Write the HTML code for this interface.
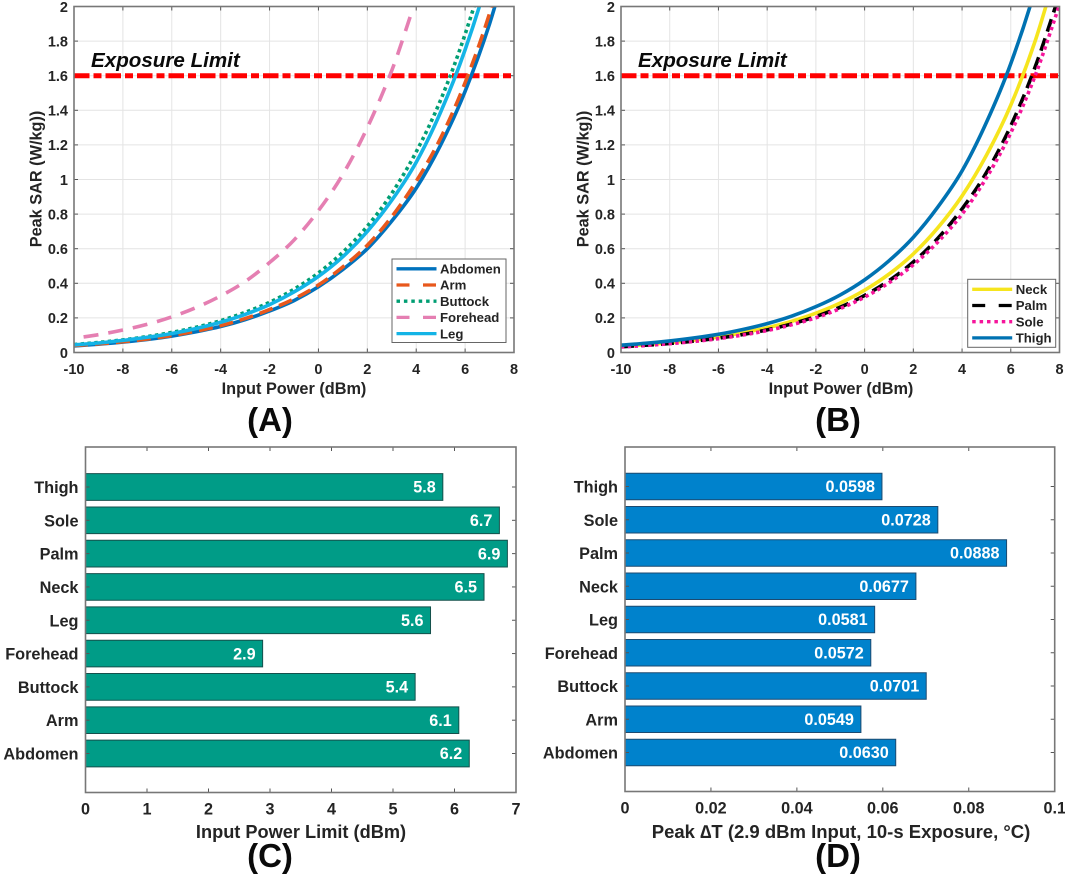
<!DOCTYPE html>
<html lang="en">
<head>
<meta charset="utf-8">
<title>Peak SAR and temperature charts</title>
<style>
html,body{margin:0;padding:0;background:#fff;}
svg{display:block;font-family:"Liberation Sans",Arial,sans-serif;font-weight:bold;}
</style>
</head>
<body>
<svg id="figure" xmlns="http://www.w3.org/2000/svg" width="1065" height="885" viewBox="0 0 1065 885">
<defs>
<clipPath id="clip-a"><rect x="74" y="6.5" width="440" height="346"/></clipPath>
<clipPath id="clip-b"><rect x="621" y="6.5" width="438.5" height="346"/></clipPath>
</defs>
<g id="panel-a"></g>
<g id="panel-b"></g>
<g id="panel-c"></g>
<g id="panel-d"></g>
</svg>
<script>
// ---- Line chart data ----
const powerDbm = [-10,-9,-8,-7,-6,-5,-4,-3,-2,-1,0,1,2,3,4,5,6,7,8];
const foreheadPowerDbm = [-10,-9,-8,-7,-6,-5,-4,-3,-2,-1,0,1,2,3,3.75];
const abdomenSar = [0.038,0.048,0.06,0.075,0.095,0.12,0.15,0.19,0.24,0.30,0.38,0.48,0.6,0.76,0.95,1.2,1.51,1.9,2.39];
const armSar = [0.04,0.05,0.062,0.078,0.098,0.124,0.155,0.196,0.248,0.31,0.39,0.495,0.62,0.785,0.99,1.24,1.56,1.96,2.47];
const buttockSar = [0.046,0.058,0.073,0.092,0.116,0.146,0.184,0.232,0.29,0.366,0.46,0.58,0.73,0.92,1.16,1.46,1.84,2.31,2.9];
const foreheadSar = [0.082,0.103,0.13,0.163,0.206,0.26,0.327,0.41,0.52,0.65,0.82,1.03,1.3,1.63,1.94];
const legSar = [0.044,0.055,0.07,0.088,0.11,0.139,0.175,0.22,0.277,0.35,0.44,0.554,0.70,0.88,1.1,1.39,1.75,2.2,2.77];
const neckSar = [0.036,0.045,0.057,0.072,0.09,0.114,0.143,0.18,0.227,0.286,0.36,0.453,0.57,0.72,0.905,1.14,1.43,1.8,2.27];
const palmSar = [0.033,0.042,0.052,0.066,0.083,0.104,0.131,0.165,0.208,0.262,0.33,0.415,0.523,0.659,0.83,1.04,1.31,1.65,2.07];
const soleSar = [0.032,0.04,0.051,0.064,0.08,0.101,0.127,0.16,0.201,0.254,0.32,0.403,0.507,0.638,0.80,1.01,1.27,1.6,2.01];
const thighSar = [0.042,0.053,0.067,0.084,0.105,0.133,0.167,0.21,0.265,0.333,0.42,0.53,0.666,0.84,1.05,1.33,1.67,2.1,2.65];
const exposureLimit = 1.6;
const lineXTicks = [-10,-8,-6,-4,-2,0,2,4,6,8];
const lineYTicks = [0,0.2,0.4,0.6,0.8,1,1.2,1.4,1.6,1.8,2];

// ---- Bar chart data ----
const bodyParts = ["Abdomen","Arm","Buttock","Forehead","Leg","Neck","Palm","Sole","Thigh"];
const powerLimitValues = [6.24,6.07,5.36,2.88,5.61,6.48,6.86,6.73,5.81];
const powerLimitLabels = ["6.2","6.1","5.4","2.9","5.6","6.5","6.9","6.7","5.8"];
const powerLimitTicks = [0,1,2,3,4,5,6,7];
const deltaTValues = [0.0630,0.0549,0.0701,0.0572,0.0581,0.0677,0.0888,0.0728,0.0598];
const deltaTLabels = ["0.0630","0.0549","0.0701","0.0572","0.0581","0.0677","0.0888","0.0728","0.0598"];
const deltaTTicks = [0,0.02,0.04,0.06,0.08,0.1];

const NS = "http://www.w3.org/2000/svg";
const INK = "#242424";
function mk(parent, tag, attrs, txt) {
  const el = document.createElementNS(NS, tag);
  for (const k in attrs) el.setAttribute(k, attrs[k]);
  if (txt !== undefined) el.textContent = txt;
  parent.appendChild(el);
  return el;
}
function smoothPath(xs, ys, sx, sy) {
  const p = xs.map((x, i) => [sx(x), sy(ys[i])]);
  let d = "M" + p[0][0].toFixed(2) + " " + p[0][1].toFixed(2);
  for (let i = 0; i < p.length - 1; i++) {
    const a = p[Math.max(i - 1, 0)], b = p[i], c = p[i + 1], e = p[Math.min(i + 2, p.length - 1)];
    d += "C" + (b[0] + (c[0] - a[0]) / 6).toFixed(2) + " " + (b[1] + (c[1] - a[1]) / 6).toFixed(2) + " " +
         (c[0] - (e[0] - b[0]) / 6).toFixed(2) + " " + (c[1] - (e[1] - b[1]) / 6).toFixed(2) + " " +
         c[0].toFixed(2) + " " + c[1].toFixed(2);
  }
  return d;
}
function drawTicksX(g, ticks, sx, top, bottom, labelY, size) {
  ticks.forEach(t => {
    const x = sx(t);
    const a = mk(g, "line", {x1:x, x2:x, y1:bottom, y2:bottom-4, stroke:"#555", "stroke-width":1});
    
    
    const b = mk(g, "line", {x1:x, x2:x, y1:top, y2:top+4, stroke:"#555", "stroke-width":1});
    
    
    const l = mk(g, "text", {x:x, y:labelY, "text-anchor":"middle", "font-size":size, fill:INK}, String(t));
    
    
  });
}
function drawFrame(g, x0, x1, top, bottom) {
  const f = mk(g, "rect", {x:x0, y:top, width:x1-x0, height:bottom-top, fill:"none", stroke:"#777", "stroke-width":1.6});
  
  
}

function lineChart(cfg) {
  const g = document.getElementById(cfg.id);
  const top = 6.5, bottom = 352.5, x0 = cfg.x0, x1 = cfg.x1;
  const sx = v => x0 + (v + 10) / 18 * (x1 - x0);
  const sy = v => bottom - v / 2 * (bottom - top);
  lineXTicks.forEach(t => {
    const gl = mk(g, "line", {x1:sx(t), x2:sx(t), y1:top, y2:bottom, stroke:"#e4e4e4", "stroke-width":1});
    
    
  });
  lineYTicks.forEach(t => {
    const gl = mk(g, "line", {x1:x0, x2:x1, y1:sy(t), y2:sy(t), stroke:"#e4e4e4", "stroke-width":1});
    
    
    const a = mk(g, "line", {x1:x0, x2:x0+4, y1:sy(t), y2:sy(t), stroke:"#555", "stroke-width":1});
    
    
    const b = mk(g, "line", {x1:x1, x2:x1-4, y1:sy(t), y2:sy(t), stroke:"#555", "stroke-width":1});
    
    
    const l = mk(g, "text", {x:x0-6, y:sy(t)+5.3, "text-anchor":"end", "font-size":14.5, fill:INK}, String(t));
    
    
  });
  drawTicksX(g, lineXTicks, sx, top, bottom, 374, 14.5);
  const clip = mk(g, "g", {"clip-path":"url(#" + cfg.clip + ")"});
  
  
  const limit = mk(clip, "line", {x1:sx(-10), x2:sx(8), y1:sy(exposureLimit), y2:sy(exposureLimit), stroke:"#ff0000", "stroke-width":5, "stroke-dasharray":"15.5 4 8 4"});
  
  
  cfg.series.forEach(s => {
    const p = mk(clip, "path", {d:smoothPath(s.x, s.y, sx, sy), fill:"none", stroke:s.color, "stroke-width":s.w, "stroke-dasharray":s.dash || "none"});
    
    
    if (s.endOnDash) {
      const len = p.getTotalLength();
      p.setAttribute("stroke-dashoffset", s.endOnDash[0] - (len % (s.endOnDash[0] + s.endOnDash[1])));
    }
  });
  drawFrame(g, x0, x1, top, bottom);
  const ex = mk(g, "text", {x:cfg.x0+17, y:67, "font-size":20.6, "font-style":"italic", fill:"#0a0a0a"}, "Exposure Limit");
  
  
  const xt = mk(g, "text", {x:cfg.titleX, y:394, "text-anchor":"middle", "font-size":16.3, fill:INK}, "Input Power (dBm)");
  
  
  const yt = mk(g, "text", {transform:"translate(" + (x0-32.5) + " 179) rotate(-90)", "text-anchor":"middle", "font-size":16.3, fill:INK}, "Peak SAR (W/kg))");
  
  
  const pl = mk(g, "text", {x:cfg.letterX, y:431, "text-anchor":"middle", "font-size":33, fill:"#0a0a0a"}, cfg.letter);
  
  
  // legend
  const lg = cfg.legend;
  const lgGroup = mk(g, "g", {});
  
  
  const box = mk(lgGroup, "rect", {x:lg.x, y:lg.y, width:lg.w, height:lg.h, fill:"#fff", stroke:"#666", "stroke-width":1});
  
  
  cfg.series.forEach((s, i) => {
    const ry = lg.y + lg.first + i * 16.2;
    const ln = mk(lgGroup, "line", {x1:lg.x+4.5, x2:lg.x+44.5, y1:ry, y2:ry, stroke:s.color, "stroke-width":3.3, "stroke-dasharray":s.legendDash || "none"});
    
    
    const tx = mk(lgGroup, "text", {x:lg.x+48, y:ry+4.7, "font-size":13.2, fill:INK}, s.name);
    
    
  });
}

function barChart(cfg) {
  const g = document.getElementById(cfg.id);
  const axisLeft = cfg.x0, axisRight = cfg.x1, axisTop = cfg.top, axisBottom = cfg.bottom;
  const domainMax = cfg.ticks[cfg.ticks.length - 1];
  const sx = v => axisLeft + (v / domainMax) * (axisRight - axisLeft);
  const rowStep = (cfg.bottomRowY - cfg.topRowY) / (bodyParts.length - 1);
  const rowY = i => cfg.bottomRowY - i * rowStep;
  const barH = rowStep * 0.8;
  bodyParts.forEach((name, i) => {
    const cy = rowY(i);
    const right = sx(cfg.values[i]);
    const d = "M" + axisLeft + " " + (cy - barH / 2) + "H" + right + "V" + (cy + barH / 2) + "H" + axisLeft + "Z";
    const r = mk(g, "path", {d:d, fill:cfg.barFill, stroke:cfg.barEdge, "stroke-width":1});
    
    
    const v = mk(g, "text", {x:right-7, y:cy+5.7, "text-anchor":"end", "font-size":16.2, fill:"#fff"}, cfg.labels[i]);
    
    
    const a = mk(g, "line", {x1:axisLeft, x2:axisLeft+4, y1:cy, y2:cy, stroke:"#555", "stroke-width":1});
    
    
    const b = mk(g, "line", {x1:axisRight, x2:axisRight-4, y1:cy, y2:cy, stroke:"#555", "stroke-width":1});
    
    
    const l = mk(g, "text", {x:axisLeft-7, y:cy+6, "text-anchor":"end", "font-size":16.3, fill:INK}, name);
    
    
  });
  drawTicksX(g, cfg.ticks, sx, axisTop, axisBottom, axisBottom+22, 16.2);
  drawFrame(g, axisLeft, axisRight, axisTop, axisBottom);
  const xt = mk(g, "text", {x:cfg.titleX, y:838, "text-anchor":"middle", "font-size":cfg.titleSize, fill:INK}, cfg.title);
  
  
  const pl = mk(g, "text", {x:cfg.letterX, y:867, "text-anchor":"middle", "font-size":33, fill:"#0a0a0a"}, cfg.letter);
  
  
}

lineChart({
  id:"panel-a", clip:"clip-a", x0:74, x1:514, titleX:294, letter:"(A)", letterX:270,
  legend:{x:392, y:259, w:114, h:83.5, first:9.8},
  series:[
    {name:"Abdomen", slug:"abdomen", x:powerDbm, y:abdomenSar, color:"#0072bd", w:3.6},
    {name:"Arm", slug:"arm", x:powerDbm, y:armSar, color:"#e8581c", w:3.6, dash:"14 7", legendDash:"13 13.5"},
    {name:"Buttock", slug:"buttock", x:powerDbm, y:buttockSar, color:"#009e73", w:3.6, dash:"3.4 3.4", legendDash:"3.5 3.9"},
    {name:"Forehead", slug:"forehead", x:foreheadPowerDbm, y:foreheadSar, color:"#e57fb2", w:3.6, dash:"15 10", endOnDash:[15,10], legendDash:"13 13.5"},
    {name:"Leg", slug:"leg", x:powerDbm, y:legSar, color:"#14b4e6", w:3.6}
  ]
});
lineChart({
  id:"panel-b", clip:"clip-b", x0:621, x1:1059.5, titleX:841, letter:"(B)", letterX:838,
  legend:{x:967.7, y:279.3, w:88, h:68, first:10},
  series:[
    {name:"Neck", slug:"neck", x:powerDbm, y:neckSar, color:"#f6e51e", w:3.6},
    {name:"Palm", slug:"palm", x:powerDbm, y:palmSar, color:"#000000", w:3.6, dash:"13 7", legendDash:"13 13.5"},
    {name:"Sole", slug:"sole", x:powerDbm, y:soleSar, color:"#f5159b", w:3.6, dash:"3.4 3.4", legendDash:"3.5 3.9"},
    {name:"Thigh", slug:"thigh", x:powerDbm, y:thighSar, color:"#0072b2", w:3.6}
  ]
});
barChart({
  id:"panel-c", x0:85.5, x1:516, top:447, bottom:792.5, topRowY:487, bottomRowY:753.5,
  values:powerLimitValues, labels:powerLimitLabels, ticks:powerLimitTicks,
  barFill:"#009c87", barEdge:"#14504c", title:"Input Power Limit (dBm)", titleX:301, titleSize:18.2, letter:"(C)", letterX:270
});
barChart({
  id:"panel-d", x0:625, x1:1054.7, top:447, bottom:791.5, topRowY:486.5, bottomRowY:752.5,
  values:deltaTValues, labels:deltaTLabels, ticks:deltaTTicks,
  barFill:"#0082cc", barEdge:"#1c4a70", title:"Peak \u2206T (2.9 dBm Input, 10-s Exposure, \u00B0C)", titleX:841, titleSize:18.5, letter:"(D)", letterX:838
});
</script>
</body>
</html>
